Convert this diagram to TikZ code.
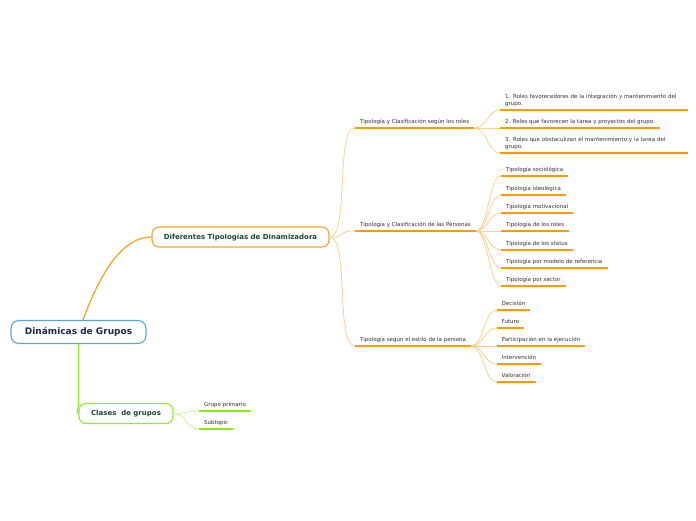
\documentclass[tikz,border=0pt]{standalone}
\usepackage{fontspec}
\setmainfont{DejaVu Sans}
\definecolor{rootblue}{HTML}{5AA5DE}
\definecolor{rootink}{HTML}{1B2B4B}
\definecolor{boxink}{HTML}{1F4436}
\definecolor{mainorange}{HTML}{F8A42C}
\definecolor{ulorange}{HTML}{FF9A00}
\definecolor{softorange}{HTML}{FFD08C}
\definecolor{maingreen}{HTML}{94E82A}
\definecolor{ulgreen}{HTML}{8AEE14}
\definecolor{softgreen}{HTML}{C6F396}
\definecolor{leafink}{HTML}{303030}
\begin{document}
\begin{tikzpicture}[x=1pt,y=-1pt,
  topicbox/.style={draw,rounded corners=7pt,line width=1.1pt,fill=white,
    minimum height=20pt,inner xsep=10pt},
  leafbase/.style={anchor=south west,inner xsep=5pt,inner ysep=3.5pt,
    font=\fontsize{5.5}{6.7}\selectfont,text=leafink},
  leaf/.style={leafbase,text height=4pt,text depth=1.3pt},
  leafwide/.style={leafbase,text width=178pt,align=left},
  ulo/.style={draw=ulorange,line width=1.6pt},
  ulg/.style={draw=ulgreen,line width=1.6pt},
  thino/.style={draw=softorange,line width=0.8pt},
  thing/.style={draw=softgreen,line width=0.8pt}]

\useasboundingbox (0,0) rectangle (696,520);

% Main topics
\node[topicbox,draw=rootblue,text=rootink,minimum width=135pt,minimum height=23pt,
  rounded corners=8pt,font=\bfseries\fontsize{9}{10}\selectfont]
  (root) at (78.5,332) {Dinámicas de Grupos};
\node[topicbox,draw=mainorange,text=boxink,minimum width=177pt,
  font=\bfseries\fontsize{7}{8}\selectfont]
  (dif) at (240.5,237) {Diferentes Tipologías de Dinamizadora};
\node[topicbox,draw=maingreen,text=boxink,minimum width=94pt,
  font=\bfseries\fontsize{7}{8}\selectfont]
  (cls) at (126,413.5) {Clases~~de grupos};

% Branches from the root
\draw[mainorange,line width=1.3pt] (root.north) ++(4.4,0)
  .. controls +(15,-40) and +(-32,0) .. (dif.west);
\draw[maingreen,line width=1.3pt] (root.south) -- ++(0,58)
  .. controls +(0,8) and +(-3,0) .. (cls.west);

% Second level
\node[leaf] (roles) at (355,128) {Tipología y Clasificación según los roles};
\node[leaf] (pers) at (355,231) {Tipología y Clasificación de las Personas};
\node[leaf] (estilo) at (355,346) {Tipología según el estilo de la persona};

% Roles
\node[leafwide] (r1) at (500,110) {1. Roles favorecedores de la integración y mantenimiento del\\grupo.};
\node[leaf] (r2) at (500,128) {2. Roles que favorecen la tarea y proyectos del grupo.};
\node[leafwide] (r3) at (500,153) {3. Roles que obstaculizan el mantenimiento y la tarea del\\grupo.};

% Personas
\node[leaf] (p1) at (501,176) {Tipología sociológica};
\node[leaf] (p2) at (501,195) {Tipología ideológica};
\node[leaf] (p3) at (501,213) {Tipología motivacional};
\node[leaf] (p4) at (501,231) {Tipología de los roles};
\node[leaf] (p5) at (501,250) {Tipología de los status};
\node[leaf] (p6) at (501,268) {Tipología por modelo de referencia};
\node[leaf] (p7) at (501,286) {Tipología por sector};

% Estilo
\node[leaf] (e1) at (496.5,310) {Decisión};
\node[leaf] (e2) at (496.5,328) {Futuro};
\node[leaf] (e3) at (496.5,346) {Participación en la ejecución};
\node[leaf] (e4) at (496.5,364) {Intervención};
\node[leaf] (e5) at (496.5,382) {Valoración};

% Clases
\node[leaf] (g1) at (199,411) {Grupo primario};
\node[leaf] (g2) at (199,429) {Subtopic};

% Connectors
\foreach \c in {roles,pers,estilo}
  \draw[thino] (dif.east) .. controls +(20,0) and +(-20,0) .. (\c.south west);
\foreach \c in {r1,r2,r3}
  \draw[thino] (roles.south east) .. controls +(12,0) and +(-12,0) .. (\c.south west);
\foreach \c in {p1,p2,p3,p4,p5,p6,p7}
  \draw[thino] (pers.south east) .. controls +(12,0) and +(-12,0) .. (\c.south west);
\foreach \c in {e1,e2,e3,e4,e5}
  \draw[thino] (estilo.south east) .. controls +(12,0) and +(-12,0) .. (\c.south west);
\foreach \c in {g1,g2}
  \draw[thing] (cls.east) .. controls +(13,0) and +(-13,0) .. (\c.south west);

% Underlines
\foreach \c in {roles,pers,estilo,r1,r2,r3,p1,p2,p3,p4,p5,p6,p7,e1,e2,e3,e4,e5}
  \draw[ulo] (\c.south west) -- (\c.south east);
\foreach \c in {g1,g2}
  \draw[ulg] (\c.south west) -- (\c.south east);

\end{tikzpicture}
\end{document}
